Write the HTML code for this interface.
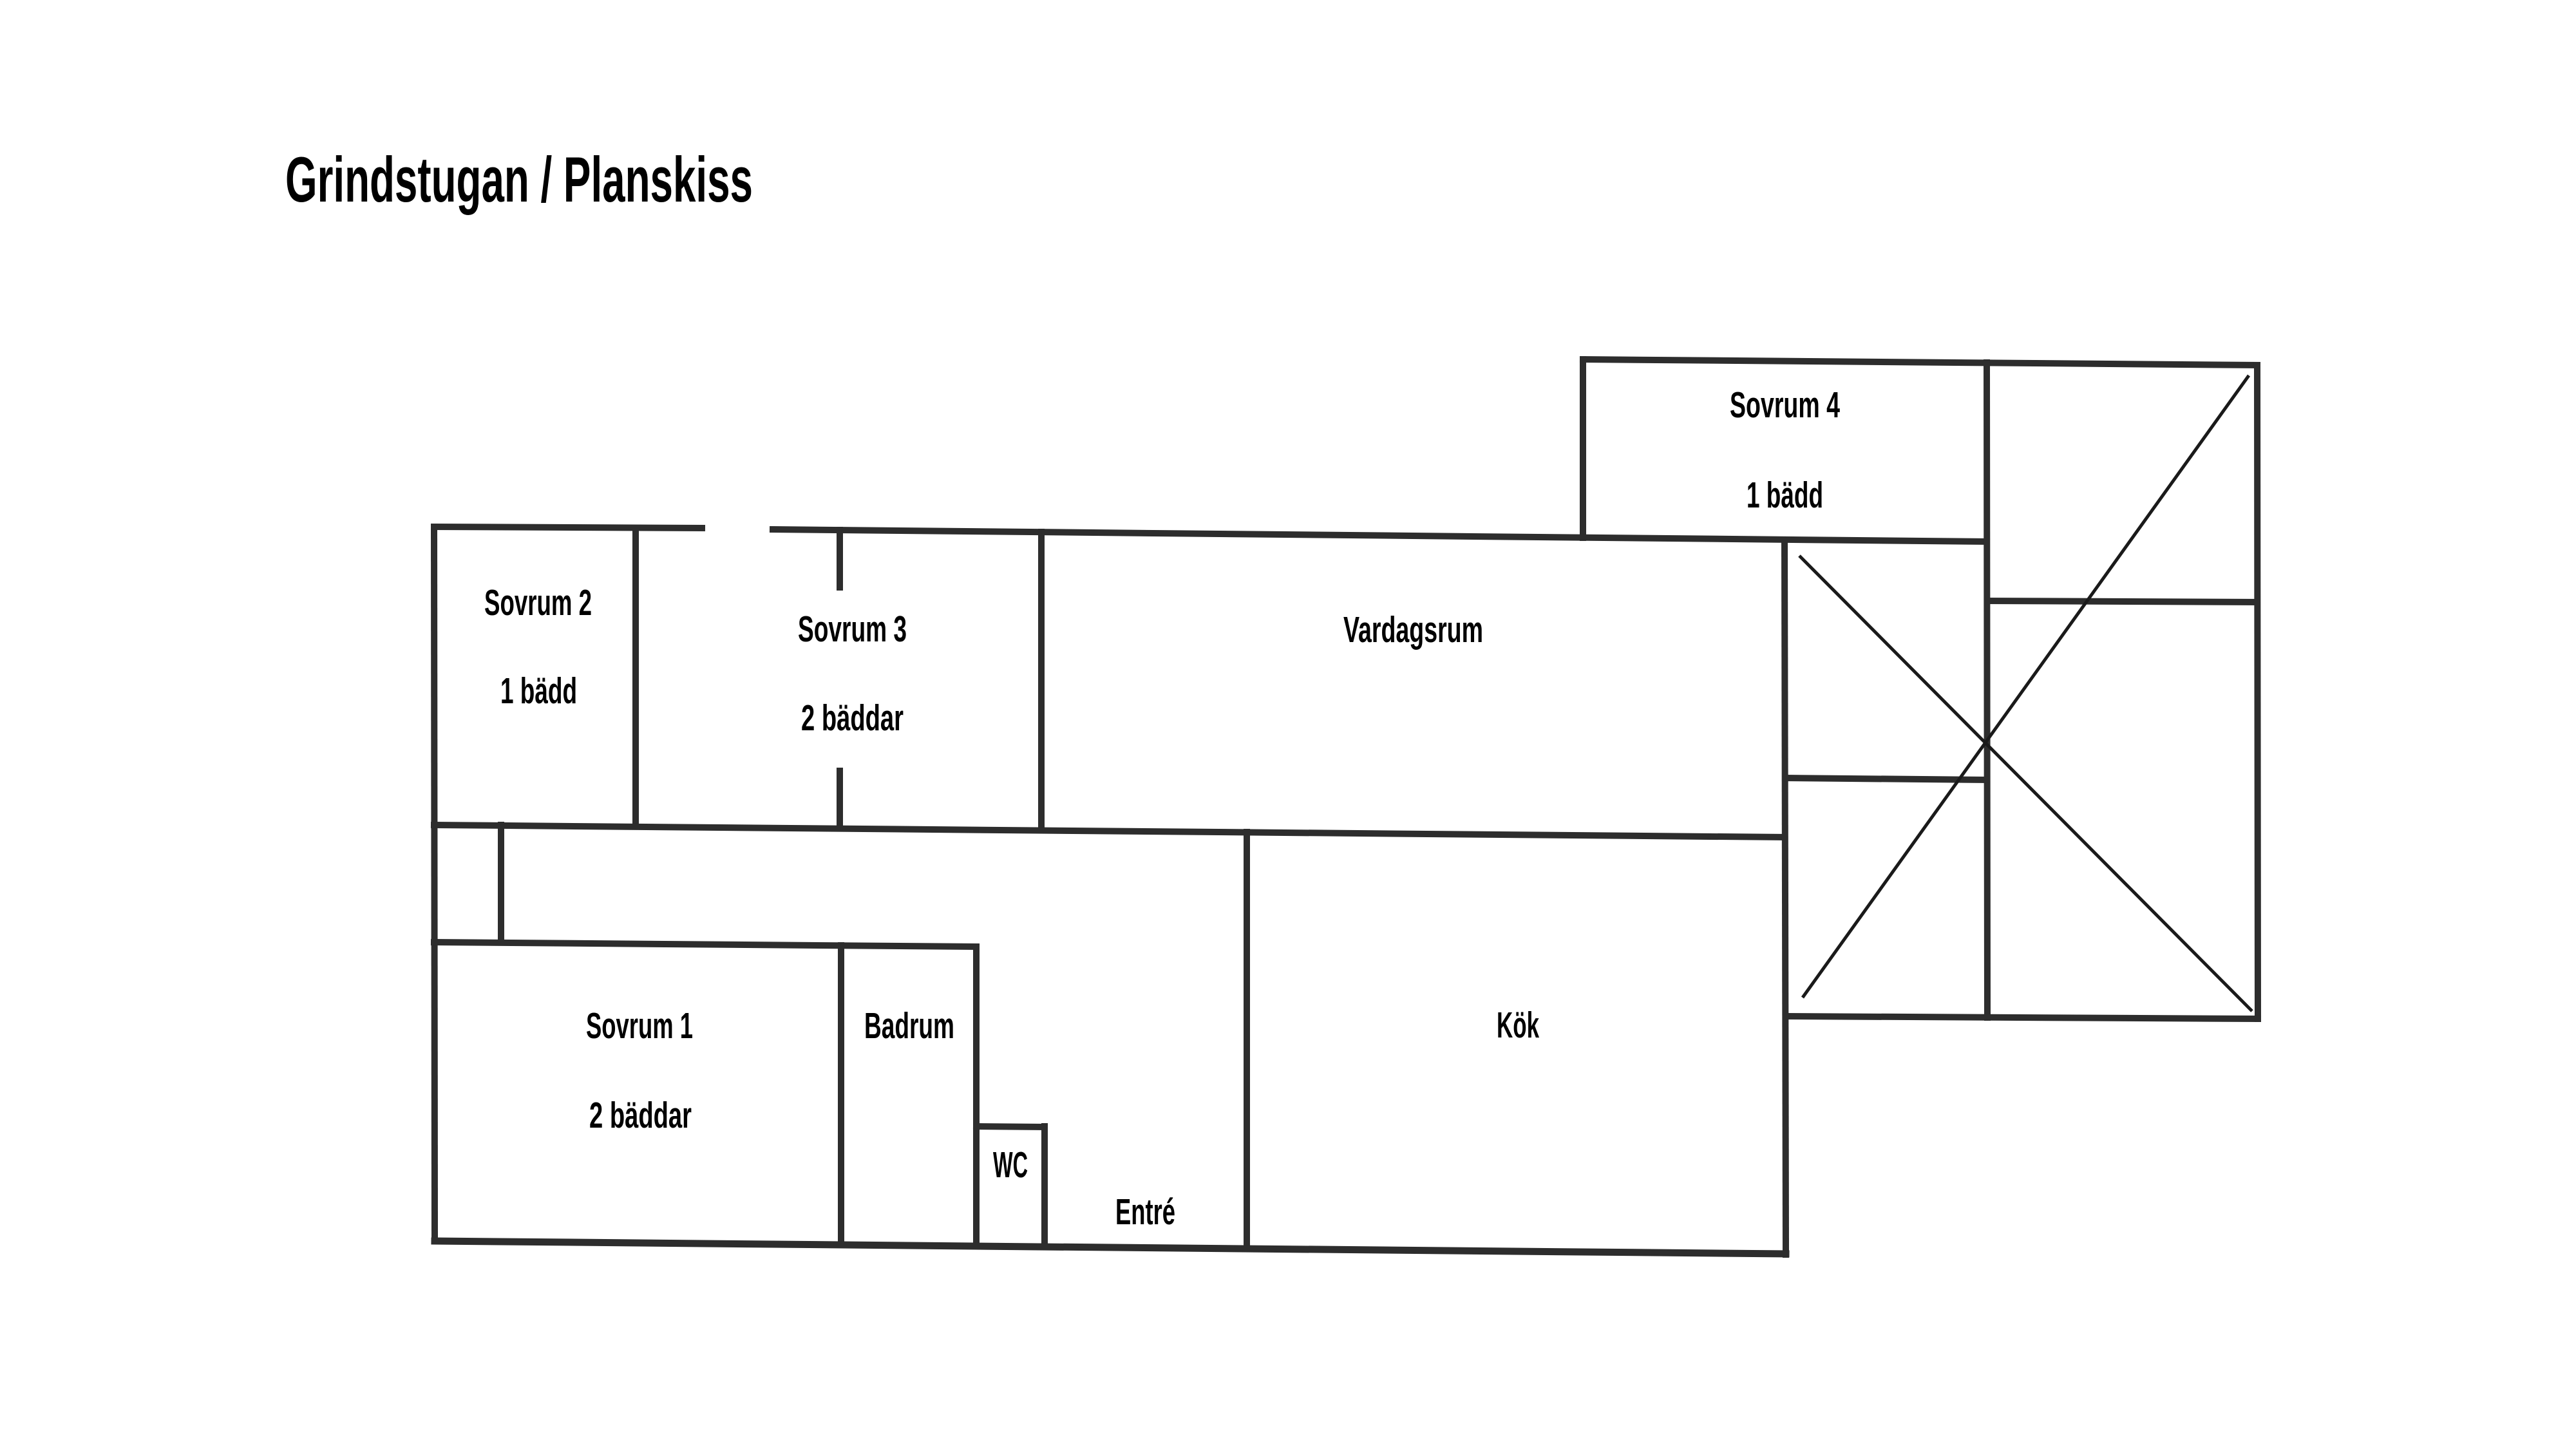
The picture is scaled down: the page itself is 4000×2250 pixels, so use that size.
<!DOCTYPE html>
<html>
<head>
<meta charset="utf-8">
<style>
html,body{margin:0;padding:0;background:#fff;}
body{width:4000px;height:2250px;overflow:hidden;}
svg{display:block;}
text{font-family:"Liberation Sans",sans-serif;font-weight:bold;fill:#000;}
</style>
</head>
<body>
<svg width="4000" height="2250" viewBox="0 0 4000 2250" xmlns="http://www.w3.org/2000/svg">
<rect width="4000" height="2250" fill="#fff"/>

<!-- Title -->
<text x="443" y="313" font-size="99" textLength="726" lengthAdjust="spacingAndGlyphs">Grindstugan / Planskiss</text>

<g stroke="#2d2d2d" stroke-width="10" stroke-linecap="square" fill="none">
  <!-- top wall left piece -->
  <line x1="674" y1="818" x2="1090" y2="820"/>
  <!-- top wall right piece to Sovrum 4 right inner wall -->
  <line x1="1200" y1="822" x2="3085" y2="841"/>
  <!-- left outer wall -->
  <line x1="674" y1="818" x2="675" y2="1927"/>
  <!-- Sovrum 2 right wall -->
  <line x1="987" y1="820" x2="987" y2="1281"/>
  <!-- Sovrum 3 door stubs -->
  <line x1="1304" y1="823" x2="1304" y2="912"/>
  <line x1="1304" y1="1197" x2="1304" y2="1283"/>
  <!-- Sovrum 3 / Vardagsrum wall -->
  <line x1="1617" y1="826" x2="1617" y2="1286"/>
  <!-- middle horizontal wall -->
  <line x1="674" y1="1281" x2="2771" y2="1300"/>
  <!-- small vertical -->
  <line x1="778" y1="1281" x2="778" y2="1463"/>
  <!-- Sovrum 1 top wall -->
  <line x1="674" y1="1463" x2="1516" y2="1470"/>
  <!-- Badrum walls -->
  <line x1="1306" y1="1468" x2="1306" y2="1930"/>
  <line x1="1516" y1="1470" x2="1516" y2="1931"/>
  <!-- WC -->
  <line x1="1516" y1="1749" x2="1622" y2="1750"/>
  <line x1="1622" y1="1749" x2="1622" y2="1932"/>
  <!-- Kök left wall -->
  <line x1="1936" y1="1292" x2="1936" y2="1934"/>
  <!-- Vardagsrum / Kök right wall -->
  <line x1="2771" y1="838" x2="2773" y2="1948"/>
  <!-- bottom wall -->
  <line x1="675" y1="1927" x2="2773" y2="1947" stroke-width="11"/>
  <!-- Sovrum 4 box -->
  <line x1="2458" y1="558" x2="2458" y2="835"/>
  <line x1="2458" y1="558" x2="3505" y2="567"/>
  <line x1="3505" y1="567" x2="3506" y2="1582"/>
  <line x1="3085" y1="563" x2="3086" y2="1580"/>
  <!-- crossed block inner walls -->
  <line x1="3086" y1="933" x2="3505" y2="935"/>
  <line x1="2772" y1="1208" x2="3085" y2="1211"/>
  <line x1="2773" y1="1578" x2="3506" y2="1582"/>
</g>

<!-- cross lines -->
<g stroke="#1a1a1a" stroke-width="5" stroke-linecap="butt">
  <line x1="2794" y1="863" x2="3497" y2="1570"/>
  <line x1="3492" y1="583" x2="2799" y2="1549"/>
</g>

<!-- Room labels -->
<text x="752" y="955" font-size="57" textLength="167" lengthAdjust="spacingAndGlyphs">Sovrum 2</text>
<text x="777" y="1092" font-size="57" textLength="119" lengthAdjust="spacingAndGlyphs">1 bädd</text>

<text x="1239" y="996" font-size="57" textLength="169" lengthAdjust="spacingAndGlyphs">Sovrum 3</text>
<text x="1244" y="1134" font-size="57" textLength="159" lengthAdjust="spacingAndGlyphs">2 bäddar</text>

<text x="2086" y="997" font-size="57" textLength="217" lengthAdjust="spacingAndGlyphs">Vardagsrum</text>

<text x="2686" y="648" font-size="57" textLength="171" lengthAdjust="spacingAndGlyphs">Sovrum 4</text>
<text x="2712" y="788" font-size="57" textLength="119" lengthAdjust="spacingAndGlyphs">1 bädd</text>

<text x="910" y="1612" font-size="57" textLength="166" lengthAdjust="spacingAndGlyphs">Sovrum 1</text>
<text x="915" y="1751" font-size="57" textLength="159" lengthAdjust="spacingAndGlyphs">2 bäddar</text>

<text x="1342" y="1612" font-size="57" textLength="140" lengthAdjust="spacingAndGlyphs">Badrum</text>

<text x="1542" y="1828" font-size="57" textLength="54" lengthAdjust="spacingAndGlyphs">WC</text>

<text x="1732" y="1901" font-size="57" textLength="93" lengthAdjust="spacingAndGlyphs">Entré</text>

<text x="2324" y="1611" font-size="57" textLength="66" lengthAdjust="spacingAndGlyphs">Kök</text>
</svg>
</body>
</html>
